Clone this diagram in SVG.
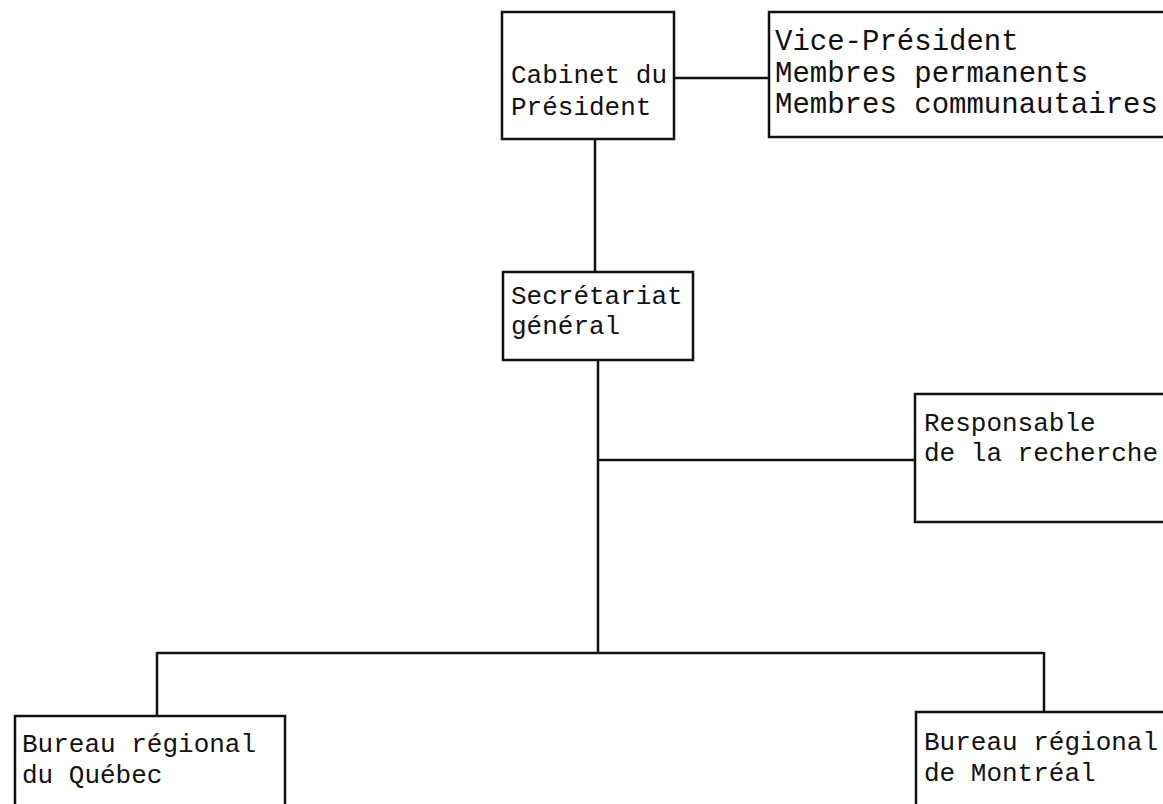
<svg xmlns="http://www.w3.org/2000/svg" width="1163" height="804" viewBox="0 0 1163 804">
<style>
.box{fill:#fff;stroke:#111;stroke-width:2.5}
.ln{fill:none;stroke:#111;stroke-width:2.5}
text{font-family:"Liberation Mono","DejaVu Sans Mono",monospace;font-size:26px;fill:#111}
.big{font-size:29px}
</style>
<rect width="1163" height="804" fill="#fff"/>
<g id="connectors">
<line class="ln" x1="674" y1="78" x2="769" y2="78"/>
<line class="ln" x1="595" y1="139" x2="595" y2="272"/>
<line class="ln" x1="598" y1="360" x2="598" y2="653"/>
<line class="ln" x1="598" y1="460" x2="915" y2="460"/>
<line class="ln" x1="157" y1="653" x2="1044" y2="653"/>
<line class="ln" x1="157" y1="652" x2="157" y2="716"/>
<line class="ln" x1="1044" y1="652" x2="1044" y2="712"/>
</g>
<g id="cabinet">
<rect class="box" x="502" y="12" width="172" height="127"/>
<text x="511" y="83">Cabinet du</text>
<text x="511" y="115">Président</text>
</g>
<g id="vice-president">
<rect class="box" x="769" y="12" width="420" height="125"/>
<text class="big" x="775" y="50">Vice-Président</text>
<text class="big" x="775" y="82">Membres permanents</text>
<text class="big" x="775" y="113">Membres communautaires</text>
</g>
<g id="secretariat">
<rect class="box" x="503" y="272" width="190" height="88"/>
<text x="511" y="304">Secrétariat</text>
<text x="511" y="334">général</text>
</g>
<g id="responsable">
<rect class="box" x="915" y="394" width="280" height="128"/>
<text x="924" y="431">Responsable</text>
<text x="924" y="461">de la recherche</text>
</g>
<g id="quebec">
<rect class="box" x="15" y="716" width="270" height="120"/>
<text x="22" y="752">Bureau régional</text>
<text x="22" y="783">du Québec</text>
</g>
<g id="montreal">
<rect class="box" x="916" y="712" width="280" height="120"/>
<text x="924" y="750">Bureau régional</text>
<text x="924" y="781">de Montréal</text>
</g>
</svg>
